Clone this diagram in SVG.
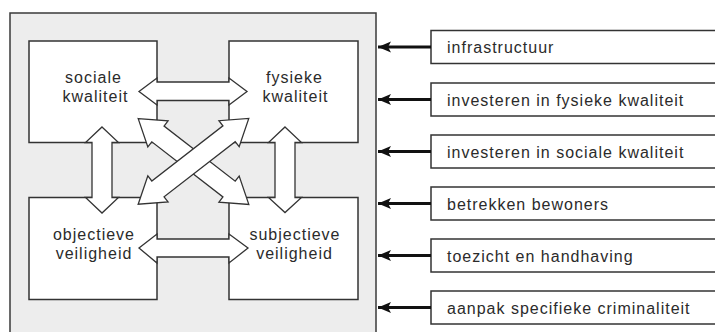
<svg xmlns="http://www.w3.org/2000/svg" width="715" height="332" viewBox="0 0 715 332">
<defs>
<style>
.outer{fill:#ededed;stroke:#3a3a3a;stroke-width:1.5}
.box{fill:#ffffff;stroke:#333333;stroke-width:1.5}
.blk{fill:#ffffff;stroke:#333333;stroke-width:1.3;stroke-linejoin:miter}
.lbl{font-family:"Liberation Sans",Arial,sans-serif;font-size:16px;letter-spacing:1px;fill:#2b2b2b}
.mid{text-anchor:middle}
.line{stroke:#111111;stroke-width:3;fill:none}
</style>
<marker id="ah" markerUnits="userSpaceOnUse" markerWidth="14" markerHeight="12" refX="13" refY="6" orient="auto">
<path d="M0,0.5 L13,6 L0,11.5 L3,6 Z" fill="#111111"/>
</marker>
<polygon id="diag" points="-70,0 -45,-16.5 -45,-10 45,-10 45,-16.5 70,0 45,16.5 45,10 -45,10 -45,16.5"/>
</defs>

<g id="container">
<rect class="outer" x="10" y="13" width="366" height="330"/>
</g>

<g id="node-sociale">
<rect class="box" x="29" y="41" width="128" height="101.5"/>
<text class="lbl mid" x="93.5" y="83">sociale</text>
<text class="lbl mid" x="95.5" y="102">kwaliteit</text>
</g>
<g id="node-fysieke">
<rect class="box" x="229" y="41" width="129" height="101.5"/>
<text class="lbl mid" x="294.5" y="83">fysieke</text>
<text class="lbl mid" x="295.5" y="102">kwaliteit</text>
</g>
<g id="node-objectieve">
<rect class="box" x="29" y="197.5" width="128" height="102"/>
<text class="lbl mid" x="94" y="239.5">objectieve</text>
<text class="lbl mid" x="94" y="258.5">veiligheid</text>
</g>
<g id="node-subjectieve">
<rect class="box" x="229" y="197.5" width="129" height="102"/>
<text class="lbl mid" x="295" y="239.5">subjectieve</text>
<text class="lbl mid" x="294.5" y="258.5">veiligheid</text>
</g>

<g id="node-infrastructuur">
<rect class="box" x="431" y="30.5" width="300" height="33"/>
<text class="lbl" x="447" y="53">infrastructuur</text>
</g>
<g id="node-fysiek-investeren">
<rect class="box" x="431" y="83" width="300" height="33"/>
<text class="lbl" x="447" y="105.5">investeren in fysieke kwaliteit</text>
</g>
<g id="node-sociaal-investeren">
<rect class="box" x="431" y="135" width="300" height="33"/>
<text class="lbl" x="447" y="157.5">investeren in sociale kwaliteit</text>
</g>
<g id="node-bewoners">
<rect class="box" x="431" y="187" width="300" height="33"/>
<text class="lbl" x="447" y="209.5">betrekken bewoners</text>
</g>
<g id="node-toezicht">
<rect class="box" x="431" y="239" width="300" height="33"/>
<text class="lbl" x="447" y="261.5">toezicht en handhaving</text>
</g>
<g id="node-criminaliteit">
<rect class="box" x="431" y="291" width="300" height="33"/>
<text class="lbl" x="447" y="313.5">aanpak specifieke criminaliteit</text>
</g>

<g id="connectors">
<!-- block arrows between the four qualities -->
<polygon class="blk" points="139,91.5 157,78 157,82 229,82 229,78 247,91.5 229,105 229,100.5 157,100.5 157,105"/>
<polygon class="blk" points="139,248 157,234 157,239 229,239 229,234 248,248 229,263 229,257 157,257 157,263"/>
<polygon class="blk" points="102,127 118.5,142.5 112,142.5 112,197.5 118.5,197.5 102,213 85.5,197.5 92,197.5 92,142.5 85.5,142.5"/>
<polygon class="blk" points="285,127 301.5,142.5 295,142.5 295,197.5 301.5,197.5 285,212.5 268.5,197.5 275,197.5 275,142.5 268.5,142.5"/>
<use href="#diag" class="blk" transform="translate(193.5,161.5) rotate(37.8)"/>
<use href="#diag" class="blk" transform="translate(193.5,161.3) rotate(142.2)"/>
<!-- measure arrows -->
<line class="line" x1="431" y1="47" x2="378" y2="47" marker-end="url(#ah)"/>
<line class="line" x1="431" y1="99.5" x2="378" y2="99.5" marker-end="url(#ah)"/>
<line class="line" x1="431" y1="151.5" x2="378" y2="151.5" marker-end="url(#ah)"/>
<line class="line" x1="431" y1="203.5" x2="378" y2="203.5" marker-end="url(#ah)"/>
<line class="line" x1="431" y1="255.5" x2="378" y2="255.5" marker-end="url(#ah)"/>
<line class="line" x1="431" y1="307.5" x2="378" y2="307.5" marker-end="url(#ah)"/>
</g>
</svg>
